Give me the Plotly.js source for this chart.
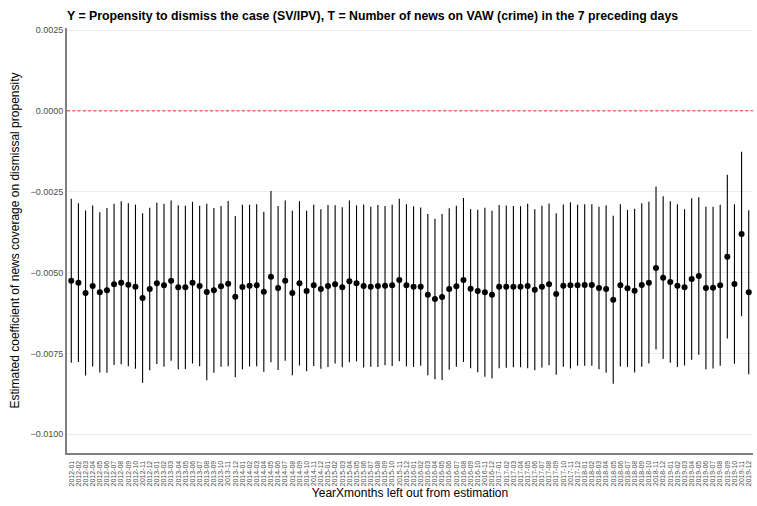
<!DOCTYPE html>
<html>
<head>
<meta charset="utf-8">
<script src="https://cdn.plot.ly/plotly-3.0.1.min.js"></script>
<style>html,body{margin:0;padding:0;background:#fff;}#chart{width:757px;height:506px;}</style>
</head>
<body>
<div id="chart"></div>
<script>
const months = [
"2012-01","2012-02","2012-03","2012-04","2012-05","2012-06","2012-07","2012-08","2012-09","2012-10","2012-11","2012-12",
"2013-01","2013-02","2013-03","2013-04","2013-05","2013-06","2013-07","2013-08","2013-09","2013-10","2013-11","2013-12",
"2014-01","2014-02","2014-03","2014-04","2014-05","2014-06","2014-07","2014-08","2014-09","2014-10","2014-11","2014-12",
"2015-01","2015-02","2015-03","2015-04","2015-05","2015-06","2015-07","2015-08","2015-09","2015-10","2015-11","2015-12",
"2016-01","2016-02","2016-03","2016-04","2016-05","2016-06","2016-07","2016-08","2016-09","2016-10","2016-11","2016-12",
"2017-01","2017-02","2017-03","2017-04","2017-05","2017-06","2017-07","2017-08","2017-09","2017-10","2017-11","2017-12",
"2018-01","2018-02","2018-03","2018-04","2018-05","2018-06","2018-07","2018-08","2018-09","2018-10","2018-11","2018-12",
"2019-01","2019-02","2019-03","2019-04","2019-05","2019-06","2019-07","2019-08","2019-09","2019-10","2019-11","2019-12"
];

const estimate = [
-0.005253,-0.005314,-0.005634,-0.005417,-0.005613,-0.005551,-0.005366,-0.005314,-0.005376,-0.005438,-0.005789,-0.005510,
-0.005335,-0.005397,-0.005253,-0.005459,-0.005459,-0.005314,-0.005417,-0.005603,-0.005551,-0.005428,-0.005345,-0.005747,
-0.005448,-0.005407,-0.005397,-0.005593,-0.005129,-0.005479,-0.005253,-0.005634,-0.005335,-0.005572,-0.005397,-0.005510,
-0.005417,-0.005366,-0.005459,-0.005273,-0.005335,-0.005417,-0.005438,-0.005417,-0.005407,-0.005397,-0.005232,-0.005397,
-0.005438,-0.005438,-0.005685,-0.005820,-0.005758,-0.005510,-0.005428,-0.005232,-0.005500,-0.005572,-0.005613,-0.005685,
-0.005438,-0.005438,-0.005438,-0.005438,-0.005417,-0.005531,-0.005438,-0.005366,-0.005665,-0.005407,-0.005397,-0.005397,
-0.005387,-0.005387,-0.005479,-0.005510,-0.005840,-0.005397,-0.005490,-0.005562,-0.005387,-0.005314,-0.004861,-0.005160,
-0.005294,-0.005407,-0.005459,-0.005201,-0.005108,-0.005479,-0.005469,-0.005397,-0.004510,-0.005356,-0.003809,-0.005613
];

const ciHalfWidth = [
0.002536,0.002454,0.002552,0.002490,0.002479,0.002546,0.002495,0.002521,0.002521,0.002536,0.002618,0.002510,
0.002495,0.002521,0.002479,0.002536,0.002526,0.002500,0.002484,0.002727,0.002546,0.002484,0.002557,0.002495,
0.002541,0.002500,0.002505,0.002474,0.002649,0.002536,0.002479,0.002546,0.002541,0.002479,0.002495,0.002469,
0.002505,0.002448,0.002474,0.002500,0.002412,0.002521,0.002474,0.002505,0.002464,0.002495,0.002510,0.002505,
0.002484,0.002448,0.002495,0.002479,0.002567,0.002495,0.002490,0.002536,0.002464,0.002510,0.002613,0.002593,
0.002526,0.002510,0.002495,0.002490,0.002541,0.002490,0.002500,0.002500,0.002495,0.002510,0.002572,0.002490,
0.002495,0.002495,0.002515,0.002588,0.002598,0.002510,0.002428,0.002531,0.002531,0.002500,0.002521,0.002515,
0.002500,0.002515,0.002417,0.002500,0.002438,0.002510,0.002500,0.002490,0.002531,0.002464,0.002541,0.002536
];

const yTickVals = [-0.01, -0.0075, -0.005, -0.0025, 0, 0.0025];
const yTickText = ["\u22120.0100", "\u22120.0075", "\u22120.0050", "\u22120.0025", "0.0000", "0.0025"];

const trace = {
  type: 'scatter',
  mode: 'markers',
  x: months,
  y: estimate,
  marker: {color: 'black', size: 6},
  error_y: {type: 'data', array: ciHalfWidth, symmetric: true, visible: true, color: 'black', thickness: 1.1, width: 0},
  hoverinfo: 'x+y',
  showlegend: false
};

const layout = {
  width: 757, height: 506,
  margin: {l: 67, r: 4, t: 28, b: 53},
  paper_bgcolor: 'white', plot_bgcolor: 'white',
  font: {family: 'Liberation Sans, Arial, sans-serif', color: 'black'},
  title: {
    text: '<b>Y = Propensity to dismiss the case (SV/IPV), T = Number of news on VAW (crime) in the 7 preceding days</b>',
    x: 0, xref: 'paper', xanchor: 'left', y: 0.969, yanchor: 'middle',
    font: {size: 12.3, color: 'black', family: 'Liberation Sans, Arial, sans-serif'}
  },
  xaxis: {
    type: 'category',
    categoryorder: 'array', categoryarray: months,
    range: [-0.6, months.length - 0.4],
    tickmode: 'array', tickvals: months, ticktext: months,
    tickangle: -90,
    tickfont: {size: 7, color: '#4d4d4d'},
    showgrid: false, zeroline: false,
    showline: true, linecolor: '#7f7f7f', linewidth: 2,
    ticks: 'outside', ticklen: 3, tickcolor: 'rgba(0,0,0,0)',
    automargin: false,
    title: {text: 'YearXmonths left out from estimation', font: {size: 12, color: 'black'}, standoff: 2}
  },
  yaxis: {
    range: [-0.010582, 0.002562],
    tickvals: yTickVals, ticktext: yTickText,
    tickfont: {size: 9, color: '#4d4d4d'},
    showgrid: true, gridcolor: '#ebebeb', gridwidth: 1,
    zeroline: false,
    showline: true, linecolor: '#7f7f7f', linewidth: 2,
    ticks: '', automargin: false,
    title: {text: 'Estimated coefficient of news coverage on dismissal propensity', font: {size: 12, color: 'black'}, standoff: 8}
  },
  shapes: [{
    type: 'line', xref: 'paper', x0: 0, x1: 1, yref: 'y', y0: 0, y1: 0,
    line: {color: '#ff2020', width: 1, dash: '3px,2.3px'}
  }]
};

Plotly.newPlot('chart', [trace], layout, {displayModeBar: false, staticPlot: true});
</script>
</body>
</html>
